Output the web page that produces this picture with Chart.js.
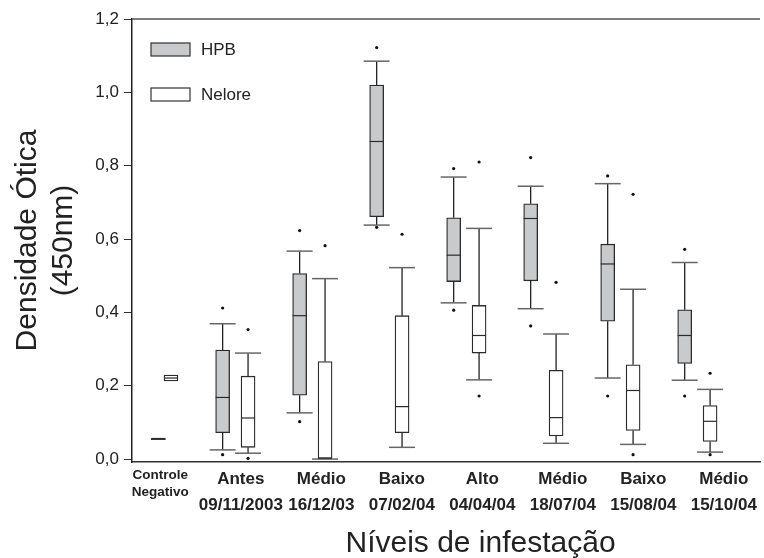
<!DOCTYPE html>
<html>
<head>
<meta charset="utf-8">
<script src="https://cdn.jsdelivr.net/npm/chart.js@4.4.1/dist/chart.umd.min.js"></script>
<style>
  html, body { margin: 0; padding: 0; background: #fff; }
</style>
</head>
<body>
<canvas id="chart" width="764" height="558"></canvas>
<script>
// Box plot: optical density (450nm) by infestation level, HPB vs Nelore

const groupLabels = [
    ['Controle', 'Negativo'],
    ['Antes', '09/11/2003'],
    ['Médio', '16/12/03'],
    ['Baixo', '07/02/04'],
    ['Alto', '04/04/04'],
    ['Médio', '18/07/04'],
    ['Baixo', '15/08/04'],
    ['Médio', '15/10/04']
];
const seriesNames = ['HPB', 'Nelore'];
const yTicks = [0, 0.2, 0.4, 0.6, 0.8, 1.0, 1.2];

// HPB
const hpbMin = [0.053, 0.025, 0.126, 0.638, 0.426, 0.410, 0.221, 0.215];
const hpbQ1  = [0.053, 0.072, 0.174, 0.661, 0.484, 0.486, 0.376, 0.261];
const hpbMed = [0.055, 0.168, 0.391, 0.866, 0.556, 0.656, 0.532, 0.337];
const hpbQ3  = [0.056, 0.297, 0.506, 1.020, 0.658, 0.696, 0.586, 0.407];
const hpbMax = [0.056, 0.369, 0.567, 1.085, 0.769, 0.744, 0.751, 0.536];
const hpbOut = [[], [0.412, 0.012], [0.623, 0.102], [1.122, 0.632], [0.792, 0.406], [0.822, 0.363], [0.772, 0.172], [0.572, 0.172]];

// Nelore
const nelMin = [0.213, 0.016, 0.000, 0.032, 0.216, 0.043, 0.040, 0.019];
const nelQ1  = [0.213, 0.032, 0.001, 0.072, 0.289, 0.063, 0.078, 0.048];
const nelMed = [0.221, 0.112, 0.003, 0.143, 0.337, 0.113, 0.187, 0.103];
const nelQ3  = [0.229, 0.226, 0.266, 0.391, 0.419, 0.242, 0.257, 0.146];
const nelMax = [0.229, 0.289, 0.492, 0.522, 0.629, 0.341, 0.463, 0.190];
const nelOut = [[], [0.353, 0.002], [0.582], [0.613], [0.810, 0.172], [0.482], [0.722, 0.012], [0.234, 0.012]];

const stats = [
    { min: hpbMin, q1: hpbQ1, med: hpbMed, q3: hpbQ3, max: hpbMax, out: hpbOut },
    { min: nelMin, q1: nelQ1, med: nelMed, q3: nelQ3, max: nelMax, out: nelOut }
];

const fills = ['#c9cacc', '#ffffff'];
const ink = '#2b2b2b';

// x position of a box on the hidden linear axis (control group sits a bit apart)
function boxPos(g, s) {
    if (g === 0) return s === 0 ? 0 : 0.164;
    return g + (s === 0 ? -0.165 : 0.165);
}

Chart.defaults.font.family = '"Liberation Sans", Arial, sans-serif';
Chart.defaults.color = '#222';

const boxDatasets = stats.map((s, si) => ({
    type: 'bar',
    label: seriesNames[si],
    data: s.q1.map((q1, g) => ({ x: boxPos(g, si), y: [q1, s.q3[g]] })),
    backgroundColor: fills[si],
    borderColor: ink,
    borderWidth: 1.3,
    borderSkipped: false,
    barThickness: 14,
    grouped: false,
    xAxisID: 'x',
    yAxisID: 'y'
}));

const outlierPoints = [];
stats.forEach((s, si) => {
    s.out.forEach((list, g) => list.forEach(v => outlierPoints.push({ x: boxPos(g, si), y: v })));
});

const boxPlotLines = {
    id: 'boxPlotLines',
    afterDatasetsDraw(chart) {
        const { ctx, scales: { x, y } } = chart;
        ctx.save();
        stats.forEach((s, si) => {
            s.med.forEach((m, g) => {
                const cx = x.getPixelForValue(boxPos(g, si));
                const ends = [];
                if (s.max[g] > s.q3[g]) ends.push([s.q3[g], s.max[g]]);
                if (s.min[g] < s.q1[g]) ends.push([s.q1[g], s.min[g]]);
                ends.forEach(([from, to]) => {
                    ctx.strokeStyle = '#222';
                    ctx.lineWidth = 1.3;
                    ctx.beginPath();
                    ctx.moveTo(cx, y.getPixelForValue(from));
                    ctx.lineTo(cx, y.getPixelForValue(to));
                    ctx.stroke();
                    ctx.strokeStyle = '#666';
                    ctx.lineWidth = 1.5;
                    ctx.beginPath();
                    ctx.moveTo(cx - 13, y.getPixelForValue(to));
                    ctx.lineTo(cx + 13, y.getPixelForValue(to));
                    ctx.stroke();
                });
                // median
                ctx.strokeStyle = ink;
                ctx.lineWidth = g === 0 && si === 0 ? 2 : 1.2;
                ctx.beginPath();
                ctx.moveTo(cx - 7, y.getPixelForValue(m));
                ctx.lineTo(cx + 7, y.getPixelForValue(m));
                ctx.stroke();
            });
        });
        ctx.restore();
    },
    afterDraw(chart) {
        const { ctx, chartArea } = chart;
        ctx.save();
        // top frame line
        ctx.strokeStyle = '#555';
        ctx.lineWidth = 1.5;
        ctx.beginPath();
        ctx.moveTo(chartArea.left, chartArea.top);
        ctx.lineTo(chartArea.right, chartArea.top);
        ctx.stroke();

        // legend inside the plot
        seriesNames.forEach((name, i) => {
            const bx = chartArea.left + 19;
            const by = chartArea.top + 24 + i * 45;
            ctx.fillStyle = fills[i];
            ctx.fillRect(bx, by, 39, 13);
            ctx.strokeStyle = '#333';
            ctx.lineWidth = 1.2;
            ctx.strokeRect(bx, by, 39, 13);
            ctx.fillStyle = '#222';
            ctx.font = '17px "Liberation Sans", Arial, sans-serif';
            ctx.textAlign = 'left';
            ctx.textBaseline = 'middle';
            ctx.fillText(name, bx + 50, by + 7);
        });

        // x title
        ctx.font = '30px "Liberation Sans", Arial, sans-serif';
        ctx.textAlign = 'center';
        ctx.textBaseline = 'alphabetic';
        ctx.fillStyle = '#222';
        ctx.fillText('Níveis de infestação', chartArea.left + (chartArea.right - chartArea.left) * 0.555, chartArea.bottom + 90);
        ctx.restore();
    }
};

new Chart(document.getElementById('chart'), {
    type: 'bar',
    data: {
        datasets: [
            ...boxDatasets,
            {
                type: 'scatter',
                label: 'outliers',
                data: outlierPoints,
                pointRadius: 1.6,
                pointBackgroundColor: '#111',
                pointBorderWidth: 0,
                xAxisID: 'x',
                yAxisID: 'y'
            }
        ]
    },
    options: {
        responsive: false,
        devicePixelRatio: 1,
        animation: false,
        layout: { padding: { top: 19, right: 0, bottom: 0, left: 0 } },
        plugins: { legend: { display: false }, tooltip: { enabled: false } },
        scales: {
            x: {
                type: 'linear',
                display: false,
                offset: false,
                min: -0.342,
                max: 7.813
            },
            xl: {
                type: 'linear',
                position: 'bottom',
                offset: false,
                min: -0.352,
                max: 7.450,
                grid: { display: false, drawTicks: false },
                border: { display: true, color: '#333', width: 1.5 },
                afterBuildTicks: axis => { axis.ticks = groupLabels.map((_, i) => ({ value: i })); },
                afterFit: axis => { axis.height = 96; axis.paddingLeft = 0; axis.paddingRight = 0; },
                ticks: {
                    autoSkip: false,
                    maxRotation: 0,
                    padding: 5,
                    color: '#222',
                    font: ctx => ctx.index === 0
                        ? { size: 13.5, weight: 'bold', lineHeight: 1.25 }
                        : { size: 17, weight: 'bold', lineHeight: 1.5 },
                    callback: v => groupLabels[v]
                }
            },
            y: {
                min: -0.008,
                max: 1.2,
                afterBuildTicks: axis => { axis.ticks = yTicks.map(v => ({ value: v })); },
                afterFit: axis => { axis.width = 132; },
                grid: { drawOnChartArea: false, drawTicks: true, tickLength: 8, color: '#333', lineWidth: 1 },
                border: { display: true, color: '#222', width: 1.5 },
                ticks: {
                    padding: 5,
                    color: '#222',
                    font: { size: 17 },
                    callback: v => v.toFixed(1).replace('.', ',')
                },
                title: {
                    display: true,
                    text: ['Densidade Ótica', '(450nm)'],
                    font: { size: 30, lineHeight: 1.2 },
                    color: '#222',
                    padding: { top: 10, bottom: 0 }
                }
            }
        }
    },
    plugins: [boxPlotLines]
});
</script>
</body>
</html>
